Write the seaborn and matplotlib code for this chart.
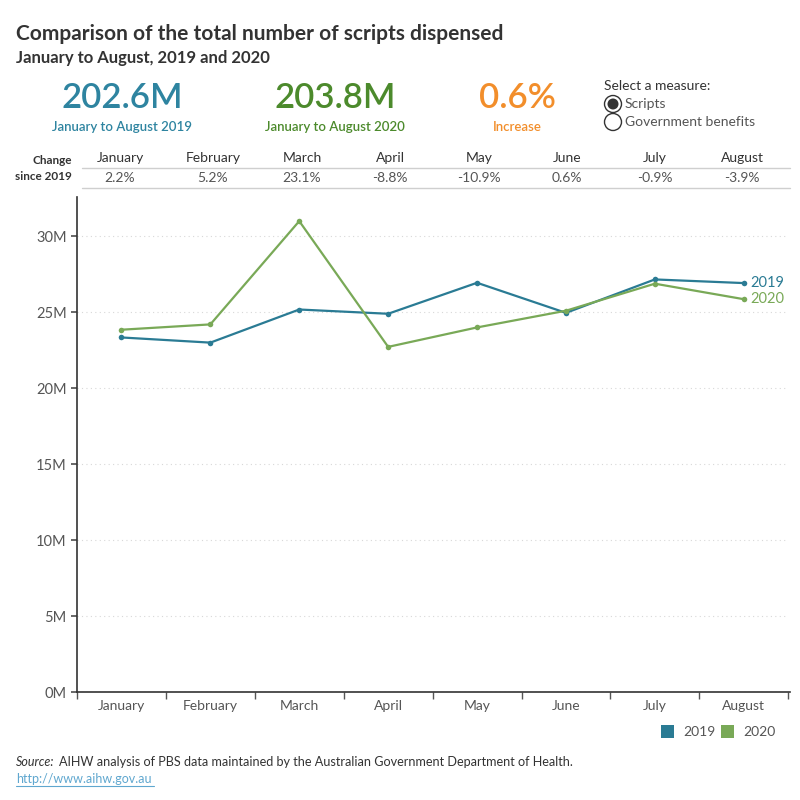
import pandas as pd
import seaborn as sns
import matplotlib.pyplot as plt
from matplotlib.patches import Circle, Rectangle
from matplotlib.lines import Line2D

# monthly scripts dispensed, millions
months = ['January', 'February', 'March', 'April', 'May', 'June', 'July', 'August']
scripts_2019 = [23.34, 23.00, 25.18, 24.90, 26.94, 24.96, 27.16, 26.92]
scripts_2020 = [23.85, 24.20, 31.00, 22.72, 24.00, 25.10, 26.88, 25.86]
change_pct = ['2.2%', '5.2%', '23.1%', '-8.8%', '-10.9%', '0.6%', '-0.9%', '-3.9%']
years = ['2019', '2020']
kpi_values = ['202.6M', '203.8M', '0.6%']
kpi_labels = ['January to August 2019', 'January to August 2020', 'Increase']
yticks = [0, 5, 10, 15, 20, 25, 30]

c19 = '#2a7b94'
c20 = '#79a957'
kpi_colors = ['#2e84a0', '#4c8a2c', '#f28e2b']

sns.set_theme(style='white')
plt.rcParams['font.family'] = ['Lato', 'DejaVu Sans']

df = pd.DataFrame({
    'month': months * 2,
    'x': list(range(len(months))) * 2,
    'scripts': scripts_2019 + scripts_2020,
    'year': [years[0]] * len(months) + [years[1]] * len(months),
})

fig = plt.figure(figsize=(8, 8), dpi=100)
ax = fig.add_axes([0.09625, 0.135, 0.889, 0.619])

sns.lineplot(data=df, x='x', y='scripts', hue='year', palette=[c19, c20],
             marker='o', markersize=4, markeredgewidth=0, linewidth=1.6,
             legend=False, ax=ax)

ax.set_xlim(-0.5, len(months) - 0.5)
ax.set_ylim(0, 32.6)
ax.set_xticks(range(len(months)))
ax.set_xticklabels(months)
ax.set_xticks([i - 0.5 for i in range(len(months) + 1)], minor=True)
ax.tick_params(axis='x', which='major', length=0, pad=6, labelsize=10, labelcolor='#555555')
ax.tick_params(axis='x', which='minor', length=5, color='#555555', width=1, direction='out', bottom=True)
ax.set_yticks(yticks)
ax.set_yticklabels([f'{v}M' for v in yticks])
ax.tick_params(axis='y', length=4, color='#555555', labelsize=10.5, labelcolor='#555555', left=True)
ax.set_xlabel('')
ax.set_ylabel('')
ax.yaxis.grid(True, linestyle=(0, (1, 3)), color='#d8d8d8', linewidth=0.8)
for s in ['top', 'right']:
    ax.spines[s].set_visible(False)
for s in ['left', 'bottom']:
    ax.spines[s].set_color('#333333')
    ax.spines[s].set_linewidth(1.2)
ax.spines['bottom'].set_bounds(-0.5, len(months) - 0.48)

# end labels
last = len(months) - 1
ax.text(last + 0.07, scripts_2019[-1], years[0], color=c19, fontsize=10.5, va='center')
ax.text(last + 0.07, scripts_2020[-1], years[1], color=c20, fontsize=10.5, va='center')

# header
fig.text(0.02, 0.958, 'Comparison of the total number of scripts dispensed',
         fontsize=15, fontweight='bold', color='#333333', va='center')
fig.text(0.02, 0.928, 'January to August, 2019 and 2020',
         fontsize=12, fontweight='bold', color='#333333', va='center')

kpi_x = [122 / 800, 335 / 800, 517 / 800]
for xk, val, lab, col in zip(kpi_x, kpi_values, kpi_labels, kpi_colors):
    fig.text(xk, 0.877, val, fontsize=25, color=col, ha='center', va='center', fontweight='semibold')
    fig.text(xk, 0.841, lab, fontsize=9.5, color=col, ha='center', va='center', fontweight='semibold')

# measure selector
fig.text(604 / 800, 1 - 86 / 800, 'Select a measure:', fontsize=10, color='#333333', va='center')
fig.add_artist(Circle((613 / 800, 1 - 104 / 800), 8.5 / 800, transform=fig.transFigure,
                      facecolor='white', edgecolor='#333333', linewidth=1))
fig.add_artist(Circle((613 / 800, 1 - 104 / 800), 5.5 / 800, transform=fig.transFigure,
                      facecolor='#333333', edgecolor='none'))
fig.add_artist(Circle((613 / 800, 1 - 122 / 800), 8.5 / 800, transform=fig.transFigure,
                      facecolor='white', edgecolor='#333333', linewidth=1))
fig.text(625 / 800, 1 - 104 / 800, 'Scripts', fontsize=10, color='#555555', va='center')
fig.text(625 / 800, 1 - 122 / 800, 'Government benefits', fontsize=10, color='#555555', va='center')

# change table
fig.text(72 / 800, 1 - 161 / 800, 'Change', fontsize=8.5, fontweight='bold', color='#333333', ha='right', va='center')
fig.text(72 / 800, 1 - 177 / 800, 'since 2019', fontsize=8.5, fontweight='bold', color='#333333', ha='right', va='center')
col_x = [120, 213, 302, 390, 479, 567, 655, 742]
for cx, m, p in zip(col_x, months, change_pct):
    fig.text(cx / 800, 1 - 158 / 800, m, fontsize=10, color='#333333', ha='center', va='center')
    fig.text(cx / 800, 1 - 178 / 800, p, fontsize=10, color='#555555', ha='center', va='center')
for yy in [168, 188]:
    fig.add_artist(Line2D([82 / 800, 790 / 800], [1 - yy / 800] * 2, transform=fig.transFigure,
                          color='#cfcfcf', linewidth=1))

# colour legend
for lx, col, yr in [(661, c19, years[0]), (721, c20, years[1])]:
    fig.add_artist(Rectangle((lx / 800, 1 - 738 / 800), 13 / 800, 13 / 800,
                             transform=fig.transFigure, facecolor=col, edgecolor='none'))
    fig.text((lx + 22) / 800, 1 - 732 / 800, yr, fontsize=10, color='#555555', va='center')

# footer
fig.text(16 / 800, 1 - 762 / 800, 'Source:', fontsize=9, style='italic', color='#333333', va='center')
fig.text(59 / 800, 1 - 762 / 800, 'AIHW analysis of PBS data maintained by the Australian Government Department of Health.',
         fontsize=9.1, color='#333333', va='center')
fig.text(16 / 800, 1 - 779 / 800, 'http://www.aihw.gov.au', fontsize=9, color='#5fa7cf', va='center')
fig.add_artist(Line2D([16 / 800, 154 / 800], [1 - 786 / 800] * 2, transform=fig.transFigure,
                      color='#5fa7cf', linewidth=0.8))

fig.savefig('out.png', dpi=100)
